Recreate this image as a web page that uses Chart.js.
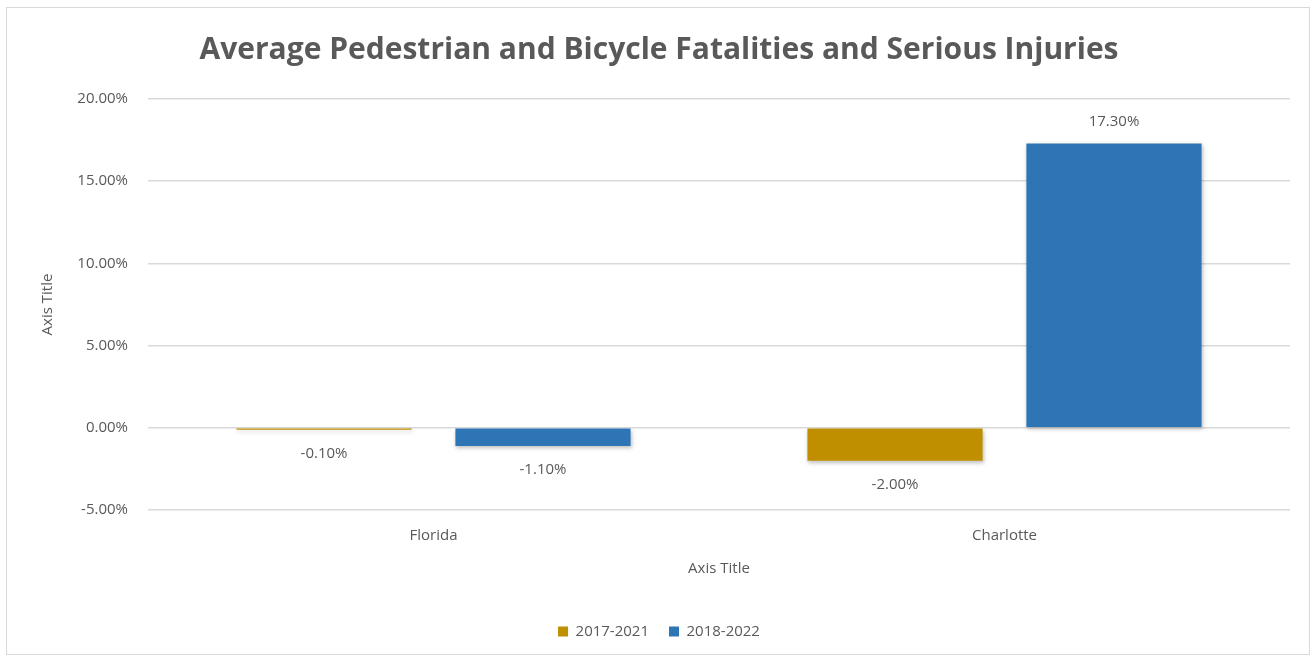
<!DOCTYPE html>
<html><head><meta charset="utf-8">
<script src="https://cdn.jsdelivr.net/npm/chart.js@4"></script>
<style>html,body{margin:0;padding:0;background:#fff;}#wrap{position:absolute;left:0;top:0;width:1315px;height:661px;}</style>
</head><body><div id="wrap"><canvas id="c" width="1315" height="661"></canvas></div>
<script>
const categories = ["Florida", "Charlotte"];
const seriesNames = ["2017-2021", "2018-2022"];
const series2017_2021 = [-0.10, -2.00];
const series2018_2022 = [-1.10, 17.30];
const yTicks = [-5, 0, 5, 10, 15, 20];
const titleText = "Average Pedestrian and Bicycle Fatalities and Serious Injuries";
const FONT = "'Open Sans', sans-serif";
const TXT = "#595959";

const borderPlugin = {
  id: 'border',
  beforeDraw(chart) {
    const ctx = chart.ctx;
    ctx.save();
    ctx.fillStyle = '#fff';
    ctx.fillRect(0, 0, chart.width, chart.height);
    ctx.strokeStyle = '#d9d9d9';
    ctx.lineWidth = 1;
    ctx.strokeRect(6.5, 7.5, 1303, 647);
    ctx.restore();
  }
};
const shadowPlugin = {
  id: 'shadow',
  beforeDatasetsDraw(chart) {
    const ctx = chart.ctx;
    ctx.save();
    ctx.shadowColor = 'rgba(0,0,0,0.25)';
    ctx.shadowBlur = 4;
    ctx.shadowOffsetX = 1;
    ctx.shadowOffsetY = 2;
  },
  afterDatasetsDraw(chart) { chart.ctx.restore(); }
};
const labelPlugin = {
  id: 'labels',
  afterDatasetsDraw(chart) {
    const ctx = chart.ctx;
    ctx.save();
    ctx.font = "15px " + FONT;
    ctx.fillStyle = TXT;
    ctx.textAlign = 'center';
    ctx.textBaseline = 'middle';
    chart.data.datasets.forEach((ds, di) => {
      const meta = chart.getDatasetMeta(di);
      meta.data.forEach((el, i) => {
        const v = ds.data[i];
        const y = v >= 0 ? Math.min(el.y, el.base) - 22 : Math.max(el.y, el.base) + 24;
        ctx.fillText(v.toFixed(2) + '%', el.x, y);
      });
    });
    ctx.restore();
  }
};

new Chart(document.getElementById('c'), {
  type: 'bar',
  data: {
    labels: categories,
    datasets: [
      { label: seriesNames[0], data: series2017_2021, backgroundColor: '#BF8F00', categoryPercentage: 0.767, barPercentage: 0.80, minBarLength: 2 },
      { label: seriesNames[1], data: series2018_2022, backgroundColor: '#2E75B6', categoryPercentage: 0.767, barPercentage: 0.80 }
    ]
  },
  options: {
    responsive: false,
    animation: false,
    devicePixelRatio: 1,
    layout: { padding: { left: 28, right: 25, top: 12, bottom: 12 } },
    plugins: {
      title: { display: true, text: titleText, color: TXT, font: { family: FONT, size: 30, weight: 'bold' }, padding: { top: 20, bottom: 31 } },
      legend: {
        position: 'bottom',
        labels: { color: TXT, font: { family: FONT, size: 15 }, boxWidth: 10, boxHeight: 10, padding: 20, useBorderRadius: false },
      },
      tooltip: { enabled: false }
    },
    scales: {
      x: {
        afterFit(scale) { scale.height = 94; },
        grid: { display: false, drawTicks: false },
        border: { display: false },
        ticks: { color: TXT, font: { family: FONT, size: 15 }, padding: 17 },
        title: { display: true, text: 'Axis Title', color: TXT, font: { family: FONT, size: 15 }, padding: { top: 3, bottom: 26 } }
      },
      y: {
        min: -5, max: 20,
        afterBuildTicks(scale) { scale.ticks = yTicks.map(v => ({ value: v })); },
        afterFit(scale) { scale.width = 120; },
        grid: { color: '#d9d9d9', drawTicks: false, lineWidth: 1.5 },
        border: { display: false },
        ticks: { color: TXT, font: { family: FONT, size: 15 }, padding: 20, callback: v => v.toFixed(2) + '%' },
        title: { display: true, text: 'Axis Title', color: TXT, font: { family: FONT, size: 15 }, padding: { top: 11, bottom: 0 } }
      }
    }
  },
  plugins: [borderPlugin, shadowPlugin, labelPlugin]
});
</script></body></html>
